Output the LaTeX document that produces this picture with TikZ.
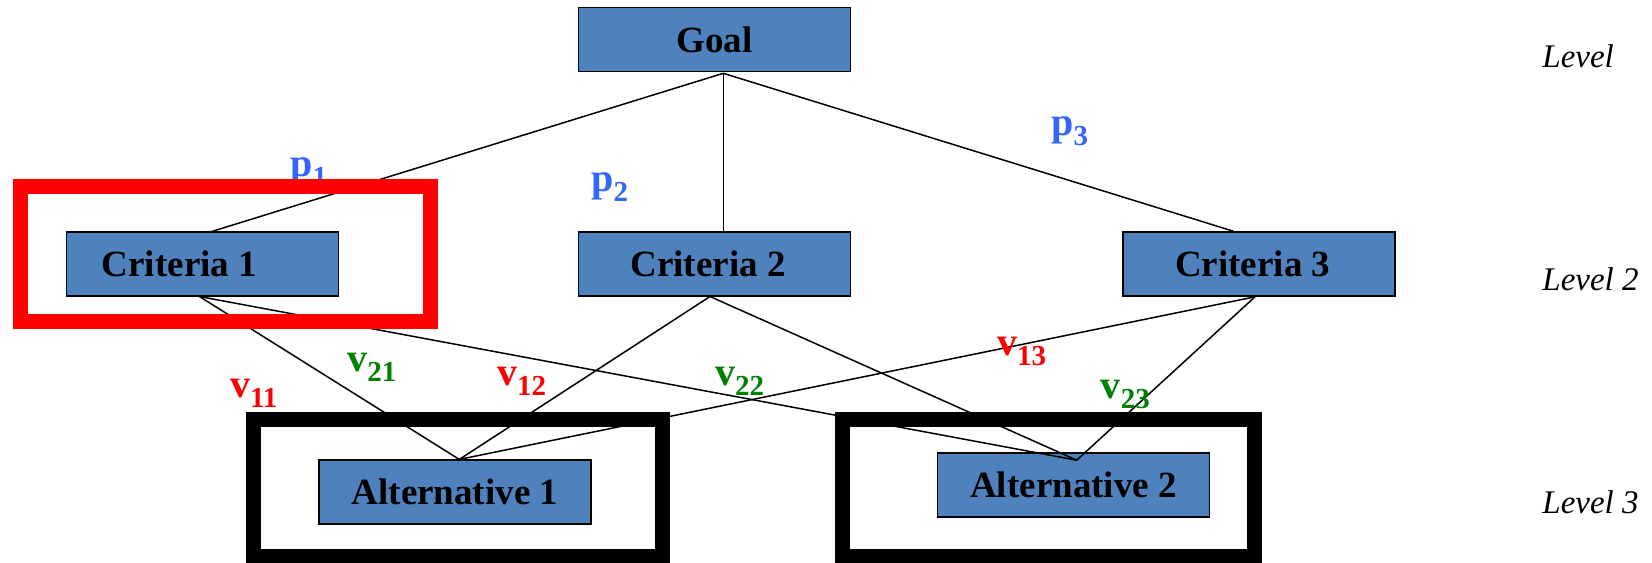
\documentclass[tikz,border=0pt]{standalone}
\usepackage{fontspec}
\setmainfont{Liberation Serif}
\usetikzlibrary{calc}
\definecolor{boxblue}{HTML}{4F81BD}
\definecolor{wblue}{HTML}{3366FF}
\definecolor{wred}{HTML}{FF0000}
\definecolor{wgreen}{HTML}{008000}
% lowered, smaller index for the weight labels
\newcommand{\lowsub}[1]{\raisebox{-5pt}{\fontsize{14.5pt}{14.5pt}\selectfont #1}}
\begin{document}
\begin{tikzpicture}[x=0.5pt,y=-0.5pt,
  box/.style={draw=black,line width=0.8pt,fill=boxblue,minimum width=136pt,
    minimum height=32pt,inner sep=0pt,font=\fontsize{18.5pt}{22pt}\selectfont\bfseries},
  link/.style={draw=black,line width=0.75pt},
  weight/.style={anchor=base west,inner sep=0pt,font=\fontsize{20pt}{24pt}\selectfont\bfseries},
  level/.style={anchor=base west,inner sep=0pt,font=\fontsize{16.5pt}{20pt}\selectfont\itshape},
  frame/.style={line width=7.5pt}]
\useasboundingbox (0,0) rectangle (1652,562);

% hierarchy boxes
\node[box] (goal) at (714.6,39.5) {Goal};
\node[box] (c1) at (202.4,263.7) {Criteria 1\hspace*{23pt}};
\node[box] (c2) at (714.6,263.7) {Criteria 2\hspace*{6.5pt}};
\node[box] (c3) at (1258.7,263.7) {Criteria 3\hspace*{6pt}};
\node[box] (a1) at (455,492.2) {Alternative 1};
\node[box] (a2) at (1073.5,485.2) {Alternative 2};

% attachment points of the links
\coordinate (goal-b) at ($(goal.south)+(8.7,1)$);
\coordinate (c1-t) at ($(c1.north)+(8.7,0.8)$);
\coordinate (c2-t) at ($(c2.north)+(8.7,0.3)$);
\coordinate (c3-t) at ($(c3.north)+(-25.4,0.3)$);
\coordinate (c1-b) at ($(c1.south)+(-3,0)$);
\coordinate (c2-b) at ($(c2.south)+(-4.6,0)$);
\coordinate (c3-b) at ($(c3.south)+(-3.7,0.3)$);
\coordinate (a1-t) at ($(a1.north)+(4.3,0)$);
\coordinate (a2-t) at ($(a2.north)+(3.2,7.8)$);

% links
\draw[link] (goal-b) -- (c1-t);
\draw[link] (goal-b) -- (c2-t);
\draw[link] (goal-b) -- (c3-t);
\foreach \c in {c1-b,c2-b,c3-b}{
  \draw[link] (\c) -- (a1-t);
  \draw[link] (\c) -- (a2-t);
}

% weights
\node[weight,text=wblue] (p1) at (290,176.5) {p\lowsub{1}};
\node[weight,text=wblue] (p2) at (591,191.5) {p\lowsub{2}};
\node[weight,text=wblue] (p3) at (1051,135.5) {p\lowsub{3}};
\node[weight,text=wred] (v11) at (229.6,397.5) {v\lowsub{11}};
\node[weight,text=wgreen] (v21) at (347,371.5) {v\lowsub{21}};
\node[weight,text=wred] (v12) at (496.6,385.5) {v\lowsub{12}};
\node[weight,text=wgreen] (v22) at (714.7,385.5) {v\lowsub{22}};
\node[weight,text=wred] (v13) at (996.7,355) {v\lowsub{13}};
\node[weight,text=wgreen] (v23) at (1100.5,398.5) {v\lowsub{23}};

% level captions
\node[level] (l1) at (1542,67) {Level};
\node[level] (l2) at (1542,290) {Level 2};
\node[level] (l3) at (1542,513) {Level 3};

% highlight frames
\draw[frame,wred] (20,186) rectangle (430,321);
\draw[frame,black] (253,419) rectangle (662,556);
\draw[frame,black] (842,419) rectangle (1254,556);
\end{tikzpicture}
\end{document}
